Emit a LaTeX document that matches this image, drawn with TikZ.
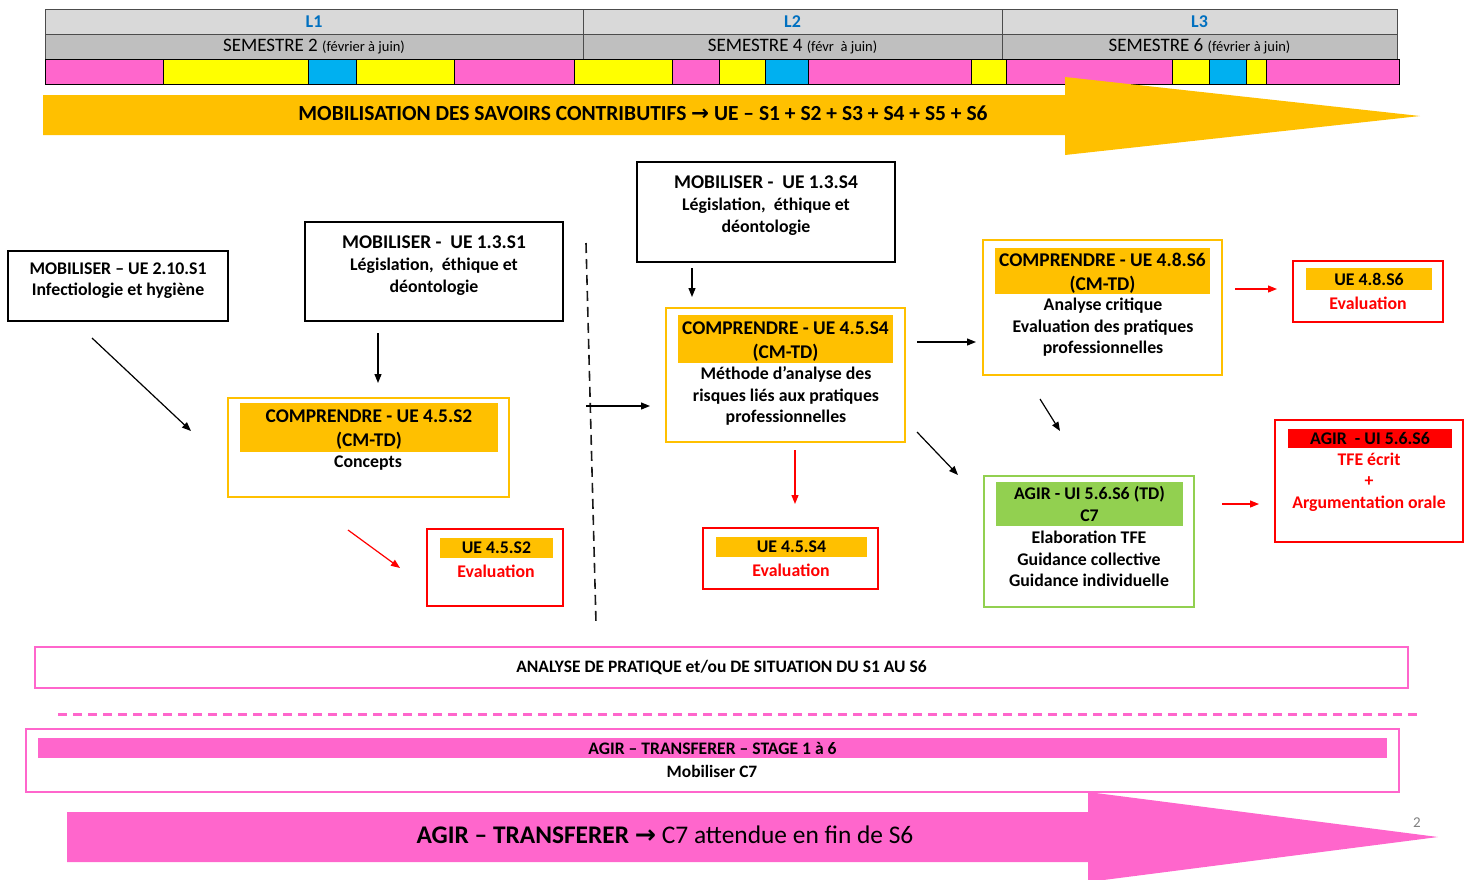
\documentclass[tikz,border=0pt]{standalone}
\usepackage{fontspec}
\setmainfont{Carlito}
\newfontfamily\dvs{DejaVu Sans}
\usetikzlibrary{arrows.meta,fit,calc}
\definecolor{pinkC}{HTML}{FF66CC}
\definecolor{yelC}{HTML}{FFFF00}
\definecolor{bluC}{HTML}{00B0F0}
\definecolor{orgC}{HTML}{FFC000}
\definecolor{grnC}{HTML}{92D050}
\definecolor{redC}{HTML}{FF0000}
\definecolor{lblue}{HTML}{0070C0}
\definecolor{gr1}{HTML}{D9D9D9}
\definecolor{gr2}{HTML}{BFBFBF}
\newcommand{\rarrow}{{\dvs\bfseries →}}
\tikzset{
  rbox/.style={inner sep=0pt, outer sep=0pt},
  blackbox/.style={rbox, draw=black, line width=2pt},
  orangebox/.style={rbox, draw=orgC, line width=2pt},
  redbox/.style={rbox, draw=redC, line width=2pt},
  greenbox/.style={rbox, draw=grnC, line width=2pt},
  pinkbox/.style={rbox, draw=pinkC, line width=2pt},
  ofill/.style={rbox, fill=orgC},
  txt/.style={inner sep=0pt, align=center, font=\bfseries\fontsize{17.8}{21.5}\selectfont},
  ttl/.style={inner sep=0pt, align=center, yshift=-2.5pt, font=\bfseries\fontsize{19.4}{24}\selectfont},
  arr/.style={-{Triangle[length=9pt,width=7pt]}, line width=1.2pt},
  rarr/.style={arr, draw=redC, color=redC},
  seg/.style={rbox, draw=black, line width=0.8pt},
  semtxt/.style={inner sep=0pt, font=\fontsize{19}{20}\selectfont},
}
\newcommand{\paren}[1]{{\fontsize{14.5}{16}\selectfont(#1)}}
\begin{document}
\begin{tikzpicture}[x=1pt,y=-1pt]
\useasboundingbox (0,0) rectangle (1474,879);
% ---------- header table
\node[rbox, draw=black!70, line width=0.8pt, fill=gr1, fit={(45,9)(583,34)}] (l1) {};
\node[rbox, draw=black!70, line width=0.8pt, fill=gr1, fit={(583,9)(1002,34)}] (l2) {};
\node[rbox, draw=black!70, line width=0.8pt, fill=gr1, fit={(1002,9)(1397,34)}] (l3) {};
\node[rbox, draw=black!70, line width=0.8pt, fill=gr2, fit={(45,34)(583,59)}] (s2) {};
\node[rbox, draw=black!70, line width=0.8pt, fill=gr2, fit={(583,34)(1002,59)}] (s4) {};
\node[rbox, draw=black!70, line width=0.8pt, fill=gr2, fit={(1002,34)(1397,59)}] (s6) {};
\node[txt, text=lblue, font=\bfseries\fontsize{18}{20}\selectfont] at (l1.center) {L1};
\node[txt, text=lblue, font=\bfseries\fontsize{18}{20}\selectfont] at (l2.center) {L2};
\node[txt, text=lblue, font=\bfseries\fontsize{18}{20}\selectfont] at (l3.center) {L3};
\node[semtxt] at (s2.center) {SEMESTRE 2 \paren{février à juin}};
\node[semtxt] at (s4.center) {SEMESTRE 4 \paren{févr\ \ à juin}};
\node[semtxt] at (s6.center) {SEMESTRE 6 \paren{février à juin}};
% colored bar
\foreach \a/\b/\c [count=\i] in {45/163/pinkC,163/308/yelC,308/356/bluC,356/454/yelC,454/574/pinkC,574/672/yelC,672/719/pinkC,719/765/yelC,765/808/bluC,808/971/pinkC,971/1006/yelC,1006/1172/pinkC,1172/1209/yelC,1209/1246/bluC,1246/1266/yelC,1266/1399/pinkC}
  \node[seg, fill=\c, fit={(\a,59)(\b,84)}] (bar\i) {};
% ---------- orange arrow
\fill[orgC] (43,95) -- (1065,95) -- (1065,77) -- (1420,116) -- (1065,155) -- (1065,135) -- (43,135) -- cycle;
\node[txt, font=\bfseries\fontsize{21.5}{24}\selectfont] (mobtxt) at (643,113) {MOBILISATION DES SAVOIRS CONTRIBUTIFS \rarrow{} UE – S1 + S2 + S3 + S4 + S5 + S6};
% ---------- left column
\node[blackbox, fit={(8,251)(228,321)}] (m1) {};
\node[txt] at (118,280.5) {MOBILISER – UE 2.10.S1\\Infectiologie et hygiène};
\node[blackbox, fit={(305,222)(563,321)}] (m2) {};
\node[txt, anchor=north, font=\bfseries\fontsize{17.8}{22}\selectfont] at (434,235.5) {{\fontsize{19.4}{22}\selectfont MOBILISER -\ \ UE 1.3.S1}\\Législation,\ \ éthique et\\déontologie};
\node[orangebox, fit={(228,398)(509,497)}] (c2) {};
\node[ofill, fit={(240,403)(498,452)}] (c2f) {};
\node[ttl] at (c2f.center) {COMPRENDRE - UE 4.5.S2\\(CM-TD)};
\node[txt] at (368,463.5) {Concepts};
\node[redbox, fit={(427,529)(563,606)}] (e2) {};
\node[ofill, fit={(440,538)(553,558)}] (e2f) {};
\node[txt] at (e2f.center) {UE 4.5.S2};
\node[txt, text=redC] at (496,571) {Evaluation};
% arrows left
\draw[arr] ([shift={(84,17)}]m1.south west) -- ([shift={(-37,33)}]c2.north west);
\draw[arr] ([shift={(73,12)}]m2.south west) -- ([shift={(150,-15)}]c2.north west);
\draw[rarr] ([shift={(-79,1)}]e2.north west) -- ([shift={(-27,39)}]e2.north west);
% dashed separator
\coordinate (dtop) at (586,243);
\coordinate (dbot) at (596,623);
\coordinate (dmid) at (586,406);
\draw[line width=1.6pt, dash pattern=on 10pt off 6pt, black!90] (dtop) -- (dbot);
% ---------- middle column
\node[blackbox, fit={(637,162)(895,262)}] (m4) {};
\node[txt, anchor=north, font=\bfseries\fontsize{17.8}{22}\selectfont] at (766,175.5) {{\fontsize{19.4}{22}\selectfont MOBILISER -\ \ UE 1.3.S4}\\Législation,\ \ éthique et\\déontologie};
\node[orangebox, fit={(666,308)(905,442)}] (c4) {};
\node[ofill, fit={(678,315)(893,363)}] (c4f) {};
\node[ttl] at (c4f.center) {COMPRENDRE - UE 4.5.S4\\(CM-TD)};
\node[txt] at (786,396) {Méthode d’analyse des\\risques liés aux pratiques\\professionnelles};
\node[redbox, fit={(703,528)(878,589)}] (e4) {};
\node[ofill, fit={(716,537)(867,557)}] (e4f) {};
\node[txt] at (e4f.center) {UE 4.5.S4};
\node[txt, text=redC] at (791,570) {Evaluation};
\draw[arr] (dmid) -- ([shift={(-16,-36)}]c4.south west);
\draw[arr] ([shift={(55,6)}]m4.south west) -- ([shift={(26,-11)}]c4.north west);
\draw[rarr] ([shift={(129,8)}]c4.south west) -- ([shift={(92,-24)}]e4.north west);
% ---------- right column
\node[orangebox, fit={(983,240)(1222,375)}] (c6) {};
\node[ofill, fit={(995,248)(1210,294)}] (c6f) {};
\node[ttl] at (c6f.center) {COMPRENDRE - UE 4.8.S6\\(CM-TD)};
\node[txt] at (1103,327.5) {Analyse critique\\Evaluation des pratiques\\professionnelles};
\node[redbox, fit={(1293,261)(1443,322)}] (e6) {};
\node[ofill, fit={(1306,268)(1432,290)}] (e6f) {};
\node[txt] at (e6f.center) {UE 4.8.S6};
\node[txt, text=redC] at (1368,303) {Evaluation};
\node[greenbox, fit={(984,476)(1194,607)}] (g6) {};
\node[rbox, fill=grnC, fit={(996,482)(1183,526)}] (g6f) {};
\node[txt] at (g6f.center) {AGIR - UI 5.6.S6 (TD)\\C7};
\node[txt] at (1089,559) {Elaboration TFE\\Guidance collective\\Guidance individuelle};
\node[redbox, fit={(1275,420)(1463,542)}] (a6) {};
\node[rbox, fill=redC, fit={(1288,429)(1452,448)}] (a6f) {};
\node[txt] at (a6f.center) {AGIR\ \ - UI 5.6.S6};
\node[txt, text=redC] at (1369,482) {TFE écrit\\+\\Argumentation orale};
\draw[arr] ([shift={(12,34)}]c4.north east) -- ([shift={(-7,102)}]c6.north west);
\draw[arr] ([shift={(12,-10)}]c4.south east) -- ([shift={(-26,-1)}]g6.north west);
\draw[arr] ([shift={(57,24)}]c6.south west) -- ([shift={(76,-45)}]g6.north west);
\draw[rarr] ([shift={(13,49)}]c6.north east) -- ([shift={(-16,28)}]e6.north west);
\draw[rarr] ([shift={(28,28)}]g6.north east) -- ([shift={(-16,84)}]a6.north west);
% ---------- bottom
\node[pinkbox, fit={(35,647)(1408,688)}] (ana) {};
\node[txt, font=\bfseries\fontsize{17.5}{18}\selectfont] at (ana.center) {ANALYSE DE PRATIQUE et/ou DE SITUATION DU S1 AU S6};
\coordinate (dl) at (58,714);
\coordinate (dr) at (1420,714);
\draw[pinkC, line width=3pt, dash pattern=on 9pt off 6pt] (dl) -- (dr);
\node[pinkbox, fit={(26,729)(1399,792)}] (stg) {};
\node[rbox, fill=pinkC, fit={(38,738)(1387,758)}] (stgf) {};
\node[txt, font=\bfseries\fontsize{17.6}{18}\selectfont] at (stgf.center) {AGIR – TRANSFERER – STAGE 1 à 6};
\node[txt, font=\bfseries\fontsize{17.4}{18}\selectfont] at (712,771) {Mobiliser C7};
\fill[pinkC] (67,812) -- (1088,812) -- (1088,792) -- (1438,837) -- (1088,882) -- (1088,862) -- (67,862) -- cycle;
\node[inner sep=0pt, font=\fontsize{25.4}{30}\selectfont] (agtxt) at (665,835) {\textbf{AGIR – TRANSFERER \rarrow} C7 attendue en fin de S6};
\node[inner sep=0pt, text=black!50, font=\fontsize{15}{18}\selectfont] (pg) at (1417,823) {2};
\end{tikzpicture}
\end{document}
